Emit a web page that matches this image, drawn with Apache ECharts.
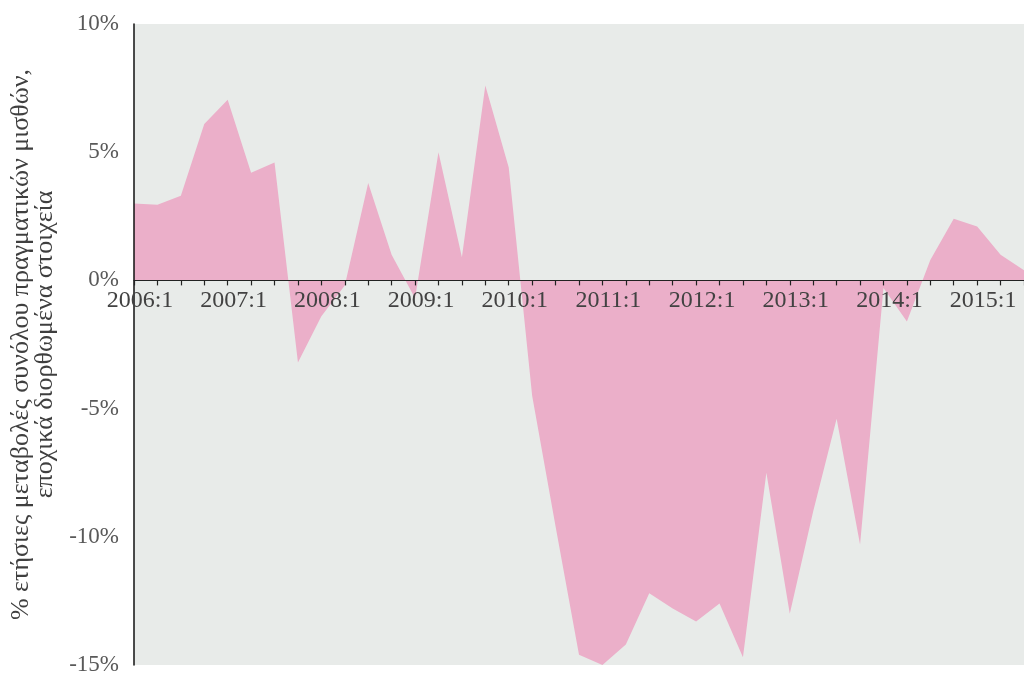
<!DOCTYPE html>
<html>
<head>
<meta charset="utf-8">
<script src="https://cdn.jsdelivr.net/npm/echarts@6/dist/echarts.min.js"></script>
<style>
html,body{margin:0;padding:0;background:#ffffff;}
#chart{width:1024px;height:677px;}
</style>
</head>
<body>
<div id="chart"></div>
<script>
var categories = [
  "2006:1","2006:2","2006:3","2006:4",
  "2007:1","2007:2","2007:3","2007:4",
  "2008:1","2008:2","2008:3","2008:4",
  "2009:1","2009:2","2009:3","2009:4",
  "2010:1","2010:2","2010:3","2010:4",
  "2011:1","2011:2","2011:3","2011:4",
  "2012:1","2012:2","2012:3","2012:4",
  "2013:1","2013:2","2013:3","2013:4",
  "2014:1","2014:2","2014:3","2014:4",
  "2015:1","2015:2","2015:3"
];
var wageChange = [
  3.0, 2.95, 3.3, 6.1,
  7.05, 4.2, 4.6, -3.2,
  -1.4, -0.2, 3.8, 1.0,
  -0.7, 5.0, 0.9, 7.6,
  4.4, -4.5, -9.6, -14.6,
  -15.0, -14.2, -12.2, -12.8,
  -13.3, -12.6, -14.7, -7.5,
  -13.0, -9.0, -5.4, -10.3,
  -0.3, -1.6, 0.8, 2.4,
  2.1, 1.0, 0.4
];
var yMin = -15, yMax = 10, yStep = 5;
var yTitle = "% ετήσιες μεταβολές συνόλου πραγματικών μισθών,\nεποχικά διορθωμένα στοιχεία";

var gridTop = 24, gridBottom = 12, chartH = 677;
var plotH = chartH - gridTop - gridBottom;
// distance from the plot bottom up to the zero line
var zeroLift = plotH * (0 - yMin) / (yMax - yMin);

var chart = echarts.init(document.getElementById('chart'));
chart.setOption({
  animation: false,
  grid: {
    left: 134, right: 0, top: gridTop, bottom: gridBottom,
    outerBoundsMode: 'none', containLabel: false,
    show: true, backgroundColor: '#e8ebe9', borderWidth: 0
  },
  xAxis: {
    type: 'category',
    data: categories,
    boundaryGap: false,
    position: 'bottom',
    offset: -zeroLift,
    z: 10,
    axisLine: { onZero: false, lineStyle: { color: '#222222', width: 1.2 } },
    axisTick: { show: true, interval: 0, length: 5, lineStyle: { color: '#222222', width: 1.2 } },
    axisLabel: {
      interval: function (idx, val) { return /:1$/.test(val); },
      fontFamily: 'Liberation Serif', fontSize: 24, color: '#424242',
      margin: 8, padding: [0, 0, 0, 12]
    },
    splitLine: { show: false }
  },
  yAxis: {
    type: 'value',
    min: yMin, max: yMax, interval: yStep,
    z: 10,
    axisLine: { show: true, lineStyle: { color: '#111111', width: 1.5 } },
    axisTick: { show: false },
    splitLine: { show: false },
    axisLabel: {
      formatter: function (v) { return v + '%'; },
      fontFamily: 'Liberation Serif', fontSize: 23, color: '#595959', margin: 15
    },
    name: yTitle,
    nameLocation: 'middle',
    nameRotate: 90,
    nameGap: 72,
    nameTextStyle: { fontFamily: 'Liberation Serif', fontSize: 26, color: '#3f3f3f', lineHeight: 24 }
  },
  series: [{
    type: 'line',
    data: wageChange,
    symbol: 'none',
    lineStyle: { width: 0 },
    areaStyle: { color: '#ebafc9', opacity: 1, origin: 0 },
    z: 2
  }]
});
</script>
</body>
</html>
